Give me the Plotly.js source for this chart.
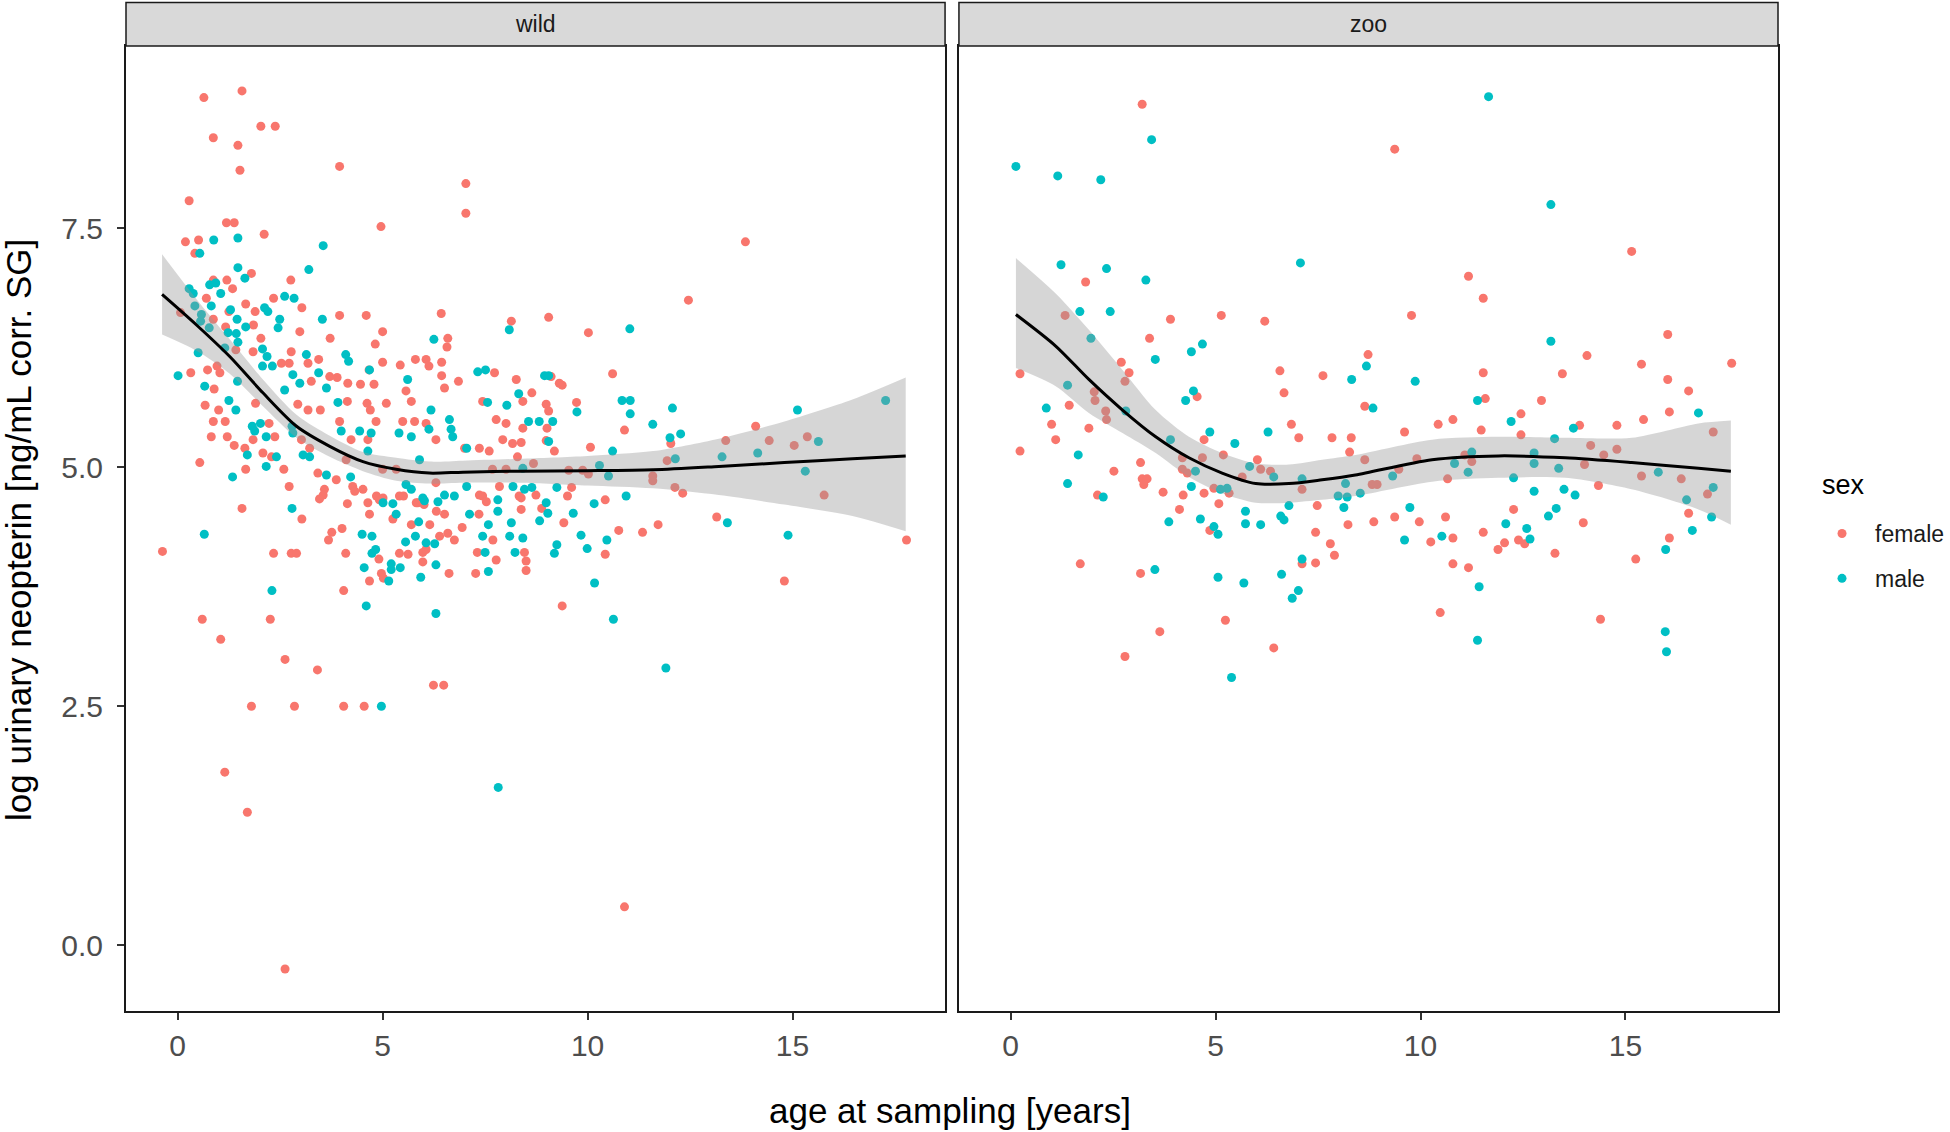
<!DOCTYPE html>
<html>
<head>
<meta charset="utf-8">
<script src="https://cdn.plot.ly/plotly-3.0.1.min.js"></script>
<style>
  html, body { margin: 0; padding: 0; background: #fff; }
  #chart { width: 1950px; height: 1132px; }
</style>
</head>
<body>
<div id="chart"></div>
<script>
// Points as [age at sampling, log urinary neopterin]
const wildFemale = [
  [0.64,8.87],[1.57,8.94],[2.03,8.57],[2.38,8.57],[0.87,8.45],[1.47,8.37],[1.52,8.11],[3.95,8.15],[7.03,7.97],[7.03,7.66],
  [0.28,7.79],[1.19,7.56],[1.38,7.56],[2.11,7.44],[4.96,7.52],[0.19,7.36],[0.51,7.38],[0.42,7.24],[1.80,7.03],[1.20,6.96],
  [1.34,6.87],[0.87,6.96],[2.76,6.96],[0.70,6.77],[2.34,6.77],[3.03,6.67],[1.66,6.71],[1.89,6.63],[1.25,6.63],[3.95,6.59],
  [4.60,6.59],[6.43,6.61],[8.14,6.53],[0.87,6.55],[1.17,6.47],[1.85,6.49],[2.98,6.42],[5.00,6.42],[3.72,6.35],[4.82,6.29],
  [2.03,6.35],[6.59,6.35],[6.57,6.26],[0.07,6.62],[0.32,5.99],[0.73,6.02],[0.96,6.06],[1.03,5.99],[1.42,6.23],[1.84,6.21],
  [2.77,6.21],[2.53,6.09],[2.72,6.09],[3.18,6.09],[3.44,6.13],[5.00,6.10],[5.43,6.07],[5.80,6.13],[6.06,6.13],[6.13,6.06],
  [6.44,6.10],[6.44,5.96],[6.85,5.90],[8.26,5.92],[7.73,5.99],[0.89,5.82],[0.67,5.65],[1.00,5.60],[0.87,5.48],[1.16,5.48],
  [0.82,5.32],[1.21,5.32],[1.38,5.23],[1.64,5.20],[1.66,4.98],[0.54,5.05],[1.90,5.67],[2.23,5.46],[2.37,5.32],[1.84,5.29],
  [2.08,5.15],[2.29,5.11],[2.59,4.98],[2.72,4.80],[3.02,5.29],[3.22,5.20],[2.93,5.66],[3.18,5.60],[3.48,5.60],[3.26,5.90],
  [3.71,5.95],[3.89,5.94],[4.15,5.88],[4.46,5.87],[4.79,5.87],[4.67,6.02],[4.14,5.69],[3.95,5.48],[4.62,5.67],[4.70,5.60],
  [4.84,5.48],[5.09,5.67],[5.57,5.80],[5.70,5.69],[5.49,5.48],[5.78,5.48],[6.06,5.46],[6.30,5.29],[6.51,5.83],[7.00,5.20],
  [7.36,5.20],[7.60,5.17],[7.77,5.50],[8.01,5.46],[7.93,5.29],[8.17,5.25],[7.44,5.69],[8.42,5.69],[8.29,5.11],[4.64,5.29],
  [4.23,5.29],[4.11,5.08],[3.42,4.94],[3.58,4.77],[3.87,4.87],[4.27,4.80],[4.52,4.77],[4.92,4.66],[5.41,4.70],[5.82,4.63],
  [6.30,4.84],[7.44,4.70],[7.85,4.80],[8.33,4.70],[5.00,4.98],[5.33,4.98],[7.68,4.98],[8.01,4.98],[1.57,4.57],
  [3.55,4.71],[3.46,4.67],[4.32,4.75],[4.85,4.70],[5.01,4.68],[5.51,4.70],[5.86,4.63],[6.01,4.61],[3.03,4.46],[4.14,4.62],
  [4.64,4.63],[4.68,4.51],[5.25,4.46],[5.70,4.40],[6.15,4.40],[6.31,4.54],[6.51,4.51],[7.36,4.71],[7.53,4.64],[7.35,4.51],
  [8.38,4.68],[8.38,4.56],[8.74,4.71],[8.88,4.57],[6.94,4.37],[3.76,4.32],[4.01,4.36],[3.68,4.24],[6.39,4.28],[6.59,4.31],
  [6.75,4.24],[7.69,4.24],[-0.37,4.12],[2.34,4.10],[2.77,4.10],[2.90,4.10],[4.10,4.10],[5.41,4.10],[5.62,4.09],[5.98,4.11],
  [6.06,4.14],[5.98,4.01],[4.91,4.04],[7.31,4.11],[7.77,4.03],[8.46,4.11],[8.50,4.02],[8.50,3.92],[6.62,3.89],[7.27,3.89],
  [4.97,3.89],[4.68,3.81],[5.02,3.84],[4.05,3.71],[0.60,3.41],[2.26,3.41],[1.05,3.20],[2.62,2.99],[3.41,2.88],[6.24,2.72],
  [6.49,2.72],[1.80,2.50],[2.85,2.50],[4.05,2.50],[4.55,2.50],[1.15,1.81],[1.70,1.39],[2.62,-0.25],
  [12.46,6.75],[9.05,6.57],[10.02,6.41],[10.61,5.98],[9.11,5.95],[9.31,5.88],[9.38,5.86],[8.64,5.78],[8.99,5.66],[9.05,5.59],
  [9.73,5.68],[14.10,5.43],[8.42,5.41],[9.01,5.41],[10.90,5.39],[8.38,5.26],[8.99,5.28],[9.19,5.17],[10.07,5.21],[12.03,5.25],
  [13.37,5.28],[14.43,5.28],[15.04,5.23],[15.36,5.32],[11.94,5.07],[8.68,5.04],[9.54,4.97],[9.88,4.97],[10.02,4.93],[11.59,4.91],
  [11.59,4.86],[12.13,4.79],[12.32,4.73],[15.77,4.71],[9.61,4.79],[9.51,4.70],[10.43,4.66],[9.42,4.42],[10.76,4.34],[11.34,4.32],
  [11.72,4.40],[13.15,4.48],[10.43,4.09],[17.78,4.24],[14.80,3.81],[9.38,3.55],[10.90,0.40],[13.85,7.36]
];

const wildMale = [
  [0.88,7.38],[1.47,7.40],[0.54,7.24],[3.55,7.32],[1.47,7.09],[1.64,6.98],[3.20,7.07],[0.28,6.87],[0.38,6.82],[0.78,6.91],
  [0.93,6.93],[1.05,6.82],[0.82,6.69],[0.42,6.69],[1.29,6.65],[2.12,6.67],[2.20,6.63],[2.61,6.79],[2.84,6.77],[0.58,6.60],
  [0.56,6.53],[0.77,6.46],[1.45,6.55],[1.66,6.47],[1.23,6.41],[1.43,6.40],[2.49,6.55],[2.45,6.46],[3.53,6.55],[1.47,6.31],
  [1.15,6.25],[2.07,6.24],[2.18,6.16],[0.50,6.20],[2.07,6.06],[2.31,6.06],[3.14,6.18],[4.10,6.18],[4.17,6.11],[0.01,5.96],
  [1.46,5.90],[2.81,5.97],[2.98,5.88],[3.44,5.99],[3.63,5.83],[4.68,6.02],[5.61,5.92],[6.25,6.34],[8.09,6.44],[7.32,6.00],
  [7.51,6.02],[8.32,5.77],[7.56,5.68],[8.03,5.65],[0.66,5.85],[1.25,5.70],[1.42,5.60],[1.82,5.43],[2.02,5.46],[1.88,5.38],
  [2.16,5.32],[2.79,5.43],[2.81,5.36],[2.61,5.81],[3.91,5.68],[3.99,5.38],[4.44,5.38],[4.72,5.36],[5.40,5.36],[5.70,5.32],
  [6.13,5.40],[6.18,5.60],[6.63,5.50],[6.67,5.40],[6.71,5.32],[7.05,5.20],[7.05,4.80],[1.70,5.13],[2.16,5.01],[2.41,5.11],
  [3.06,5.13],[3.22,5.11],[1.34,4.90],[3.63,4.92],[4.22,4.90],[4.64,5.17],[5.57,4.82],[5.90,5.08],[5.70,4.77],[5.98,4.68],
  [6.35,4.64],[6.75,4.70],[7.81,4.66],[8.18,4.80],[8.46,4.77],[2.79,4.57],
  [0.65,4.30],[2.30,3.71],[4.60,3.55],[6.30,3.47],[4.97,2.50],[7.82,1.65],[4.50,4.30],[4.74,4.28],[4.83,4.14],[4.74,4.10],
  [4.55,3.95],[5.21,3.99],[5.21,3.93],[5.43,3.95],[5.15,3.81],[5.93,3.85],[6.30,3.98],[5.01,4.63],[5.25,4.62],[5.33,4.51],
  [6.02,4.65],[6.51,4.71],[5.88,4.43],[5.80,4.28],[5.56,4.22],[6.06,4.21],[6.27,4.20],[7.12,4.51],[7.58,4.40],[7.81,4.54],
  [8.14,4.42],[7.44,4.28],[8.10,4.28],[8.42,4.26],[8.23,4.11],[7.50,4.11],[7.58,3.91],[8.83,4.44],[8.99,4.63],[9.03,4.52],
  [11.03,6.45],[8.95,5.96],[9.05,5.96],[9.74,5.58],[10.84,5.70],[11.04,5.70],[11.04,5.56],[12.07,5.62],[17.27,5.70],[15.12,5.60],
  [8.56,5.48],[8.82,5.48],[9.15,5.48],[9.05,5.27],[11.59,5.45],[12.27,5.35],[12.01,5.31],[10.61,5.17],[15.63,5.27],[14.15,5.15],
  [13.28,5.11],[12.14,5.09],[8.42,4.99],[10.29,5.02],[10.51,4.91],[15.31,4.96],[8.64,4.79],[9.25,4.79],[10.94,4.70],[10.16,4.62],
  [9.65,4.52],[13.41,4.42],[9.84,4.29],[10.47,4.24],[9.25,4.19],[9.19,4.10],[9.99,4.15],[14.89,4.29],[10.17,3.79],[10.63,3.41],
  [11.91,2.90]
];

const zooFemale = [
  [3.21,8.80],[1.83,6.94],[1.33,6.59],[3.90,6.55],[5.14,6.59],[6.20,6.53],[3.39,6.35],[2.70,6.10],[2.89,5.99],[2.79,5.90],
  [0.23,5.98],[6.57,6.01],[7.62,5.96],[6.67,5.78],[8.72,6.18],[8.64,5.64],[4.55,5.74],[2.04,5.79],[2.06,5.70],[1.43,5.65],
  [1.00,5.45],[1.10,5.29],[1.91,5.41],[2.32,5.59],[2.34,5.50],[0.23,5.17],[6.85,5.45],[7.03,5.31],[7.84,5.31],[8.31,5.31],
  [8.27,5.16],[4.72,5.29],[3.17,5.05],[2.52,4.96],[3.21,4.88],[3.33,4.88],[3.25,4.82],[4.19,5.10],[4.68,5.10],[5.19,5.13],
  [6.02,5.08],[6.10,4.98],[6.34,4.96],[8.64,5.08],[8.82,4.82],[7.11,4.77],[5.65,4.90],[4.19,4.98],[4.31,4.94],[3.72,4.74],
  [4.21,4.71],[4.72,4.73],[4.96,4.78],[5.33,4.73],[2.12,4.71],[4.12,4.56],[5.08,4.62],[4.86,4.34],[7.48,4.60],[8.23,4.40],
  [8.86,4.43],[7.44,4.32],[7.80,4.20],[7.90,4.08],[7.11,3.99],[7.44,4.00],[1.70,3.99],[3.17,3.89],[2.79,3.02],[5.24,3.40],
  [6.42,3.11],[3.64,3.28],
  [9.37,8.33],[11.17,7.00],[11.53,6.77],[9.78,6.59],[15.15,7.26],[16.03,6.39],[14.06,6.17],[15.39,6.08],[17.59,6.09],[16.03,5.92],
  [16.54,5.80],[13.46,5.98],[11.53,5.99],[11.58,5.72],[12.95,5.70],[12.45,5.56],[16.07,5.58],[15.44,5.50],[14.79,5.44],[13.88,5.44],
  [10.79,5.50],[10.43,5.45],[9.61,5.37],[11.48,5.39],[12.45,5.34],[17.14,5.37],[14.15,5.23],[14.79,5.19],[14.47,5.13],[11.08,5.13],
  [11.25,5.06],[9.91,5.09],[14.00,5.03],[10.66,4.88],[9.47,4.98],[15.39,4.91],[16.36,4.88],[8.94,4.82],[14.34,4.81],[17.00,4.72],
  [16.54,4.52],[12.27,4.56],[9.37,4.48],[9.97,4.43],[10.61,4.48],[13.97,4.42],[11.53,4.32],[10.79,4.26],[10.25,4.22],[16.07,4.26],
  [11.89,4.14],[12.05,4.21],[12.39,4.24],[12.54,4.20],[13.28,4.10],[10.79,3.99],[11.17,3.95],[15.25,4.04],[10.48,3.48],[14.39,3.41]
];

const zooMale = [
  [0.13,8.15],[1.15,8.05],[2.20,8.01],[3.44,8.43],[1.23,7.12],[2.34,7.08],[3.30,6.96],[7.07,7.14],[1.69,6.63],[2.43,6.63],
  [1.96,6.35],[3.53,6.13],[4.41,6.21],[4.68,6.29],[8.68,6.06],[8.32,5.92],[1.39,5.86],[4.46,5.80],[4.27,5.70],[0.87,5.62],
  [2.81,5.59],[8.84,5.62],[6.28,5.37],[4.86,5.37],[3.90,5.29],[5.47,5.25],[1.65,5.13],[5.83,5.01],[6.42,4.90],[4.51,4.96],
  [1.39,4.83],[4.41,4.80],[5.12,4.77],[5.28,4.78],[7.11,4.88],[8.17,4.83],[7.99,4.70],[8.21,4.69],[8.53,4.73],[8.13,4.58],
  [2.26,4.69],[6.79,4.60],[6.59,4.49],[6.67,4.45],[5.73,4.54],[5.73,4.41],[6.10,4.40],[3.86,4.43],[4.63,4.46],[4.96,4.38],
  [5.06,4.30],[7.11,4.04],[3.52,3.93],[5.06,3.85],[5.69,3.79],[6.61,3.88],[7.02,3.71],[6.87,3.63],[5.39,2.80],
  [11.66,8.88],[13.18,7.75],[13.18,6.32],[9.87,5.90],[11.39,5.70],[12.21,5.48],[13.73,5.41],[13.27,5.30],[16.78,5.57],[11.25,5.16],
  [10.83,5.04],[12.77,5.15],[12.77,5.04],[13.37,4.99],[9.32,4.91],[11.16,4.95],[12.27,4.89],[15.80,4.95],[12.77,4.75],[13.50,4.77],
  [13.77,4.71],[17.14,4.79],[16.49,4.66],[9.74,4.58],[13.31,4.57],[13.12,4.49],[12.08,4.41],[12.59,4.36],[12.67,4.25],[10.52,4.28],
  [9.61,4.24],[17.10,4.48],[16.63,4.34],[15.98,4.14],[11.43,3.75],[11.39,3.19],[15.97,3.28],[16.00,3.07]
];

// Loess fit and 95% band
const wildFitAge  = [-0.38, 0.46, 1.27, 2.08, 2.90, 3.71, 4.52, 5.33, 6.14, 6.96, 8.34, 10.0, 11.6, 13.2, 14.8, 16.46, 17.76];
const wildFitMid  = [6.81, 6.49, 6.16, 5.78, 5.43, 5.22, 5.06, 4.98, 4.94, 4.95, 4.96, 4.965, 4.975, 5.01, 5.05, 5.09, 5.12];
const wildFitLow  = [6.39, 6.22, 5.98, 5.64, 5.31, 5.11, 4.96, 4.86, 4.83, 4.84, 4.84, 4.81, 4.78, 4.71, 4.61, 4.49, 4.33];
const wildFitHigh = [7.23, 6.76, 6.34, 5.92, 5.55, 5.33, 5.16, 5.10, 5.06, 5.07, 5.09, 5.12, 5.17, 5.30, 5.48, 5.71, 5.94];

const zooFitAge  = [0.13, 1.10, 1.91, 2.73, 3.54, 4.35, 5.16, 5.98, 6.79, 7.6, 8.41, 10.28, 11.9, 13.53, 15.15, 16.78, 17.57];
const zooFitMid  = [6.60, 6.27, 5.92, 5.60, 5.32, 5.10, 4.94, 4.83, 4.83, 4.87, 4.92, 5.08, 5.12, 5.10, 5.05, 4.99, 4.96];
const zooFitLow  = [6.04, 5.85, 5.57, 5.36, 5.15, 4.90, 4.73, 4.63, 4.63, 4.66, 4.70, 4.85, 4.89, 4.89, 4.77, 4.56, 4.40];
const zooFitHigh = [7.19, 6.82, 6.44, 6.02, 5.60, 5.32, 5.15, 5.04, 5.03, 5.08, 5.13, 5.29, 5.32, 5.31, 5.31, 5.46, 5.49];

const xTicks = [0, 5, 10, 15];
const yTicks = [0, 2.5, 5, 7.5];
const yTickText = ['0.0', '2.5', '5.0', '7.5'];
const facetNames = ['wild', 'zoo'];

const FEMALE = '#F8766D';
const MALE = '#00BFC4';
const FONT = 'Liberation Sans, Arial, sans-serif';

function pointTrace(pts, name, color, xa, ya, showlegend) {
  return {
    type: 'scatter',
    mode: 'markers',
    name,
    legendgroup: name,
    showlegend,
    x: pts.map(p => p[0]),
    y: pts.map(p => p[1]),
    xaxis: xa,
    yaxis: ya,
    marker: { color, size: 9, line: { width: 0 } },
    hoverinfo: 'x+y',
  };
}

function fitTraces(age, low, high, mid, xa, ya) {
  const common = { type: 'scatter', mode: 'lines', x: age, xaxis: xa, yaxis: ya, showlegend: false, hoverinfo: 'skip' };
  return [
    { ...common, y: low, line: { width: 0, shape: 'spline', smoothing: 0.8 } },
    { ...common, y: high, line: { width: 0, shape: 'spline', smoothing: 0.8 },
      fill: 'tonexty', fillcolor: 'rgba(153,153,153,0.4)' },
    { ...common, y: mid, line: { color: '#000000', width: 3, shape: 'spline', smoothing: 0.8 } },
  ];
}

const traces = [
  pointTrace(wildFemale, 'female', FEMALE, 'x', 'y', true),
  pointTrace(wildMale, 'male', MALE, 'x', 'y', true),
  ...fitTraces(wildFitAge, wildFitLow, wildFitHigh, wildFitMid, 'x', 'y'),
  pointTrace(zooFemale, 'female', FEMALE, 'x2', 'y2', false),
  pointTrace(zooMale, 'male', MALE, 'x2', 'y2', false),
  ...fitTraces(zooFitAge, zooFitLow, zooFitHigh, zooFitMid, 'x2', 'y2'),
];

const X_AXIS = {
  range: [-1.26, 18.72],
  tickvals: xTicks,
  ticks: 'outside', ticklen: 7, tickwidth: 2, tickcolor: '#333333',
  tickfont: { family: FONT, size: 30, color: '#4D4D4D' },
  ticklabelstandoff: 0,
  showgrid: false, zeroline: false,
  showline: true, mirror: true, linecolor: '#1A1A1A', linewidth: 2,
};

const Y_AXIS = {
  range: [-0.69, 9.41],
  tickvals: yTicks, ticktext: yTickText,
  ticks: 'outside', ticklen: 7, tickwidth: 2, tickcolor: '#333333',
  tickfont: { family: FONT, size: 30, color: '#4D4D4D' },
  ticklabelstandoff: 8,
  showgrid: false, zeroline: false,
  showline: true, mirror: true, linecolor: '#1A1A1A', linewidth: 2,
};

// facet strips on top of each panel
const STRIP_TOP = 1.045;
const shapes = ['x', 'x2'].map(xa => ({
  type: 'rect', xref: xa + ' domain', yref: 'paper',
  x0: 0, x1: 1, y0: 1, y1: STRIP_TOP,
  fillcolor: '#D9D9D9', line: { color: '#1A1A1A', width: 1.5 },
}));

const annotations = [
  ...facetNames.map((name, i) => ({
    text: name, xref: (i === 0 ? 'x' : 'x2') + ' domain', yref: 'paper',
    x: 0.5, y: (1 + STRIP_TOP) / 2, xanchor: 'center', yanchor: 'middle', showarrow: false,
    font: { family: FONT, size: 23, color: '#1A1A1A' },
  })),
  {
    text: 'age at sampling [years]', xref: 'paper', yref: 'paper',
    x: 0.4988, y: -0.1026, xanchor: 'center', yanchor: 'middle', showarrow: false,
    font: { family: FONT, size: 35, color: '#000000' },
  },
  {
    text: 'log urinary neopterin [ng/mL corr. SG]', xref: 'paper', yref: 'paper',
    x: -0.0654, y: 0.4984, xanchor: 'center', yanchor: 'middle', showarrow: false, textangle: -90,
    font: { family: FONT, size: 35, color: '#000000' },
  },
  // legend title
  {
    text: 'sex', xref: 'paper', yref: 'paper',
    x: 1.0254, y: 0.545, xanchor: 'left', yanchor: 'middle', showarrow: false,
    font: { family: FONT, size: 27, color: '#000000' },
  },
];

const layout = {
  width: 1950,
  height: 1132,
  margin: { l: 126, r: 172, t: 46, b: 121, autoexpand: false },
  paper_bgcolor: '#FFFFFF',
  plot_bgcolor: '#FFFFFF',
  font: { family: FONT, color: '#000000' },
  xaxis: { ...X_AXIS, domain: [0, 0.4958], anchor: 'y' },
  xaxis2: { ...X_AXIS, domain: [0.5042, 1], anchor: 'y2' },
  yaxis: { ...Y_AXIS, anchor: 'x' },
  yaxis2: { ...Y_AXIS, anchor: 'x2', matches: 'y', showticklabels: false, ticks: '' },
  showlegend: true,
  legend: {
    xref: 'container', yref: 'container',
    x: 0.9277, y: 0.5477, xanchor: 'left', yanchor: 'top',
    font: { family: FONT, size: 23, color: '#1A1A1A' },
    itemwidth: 56,
    tracegroupgap: 12,
    bgcolor: 'rgba(0,0,0,0)',
  },
  shapes,
  annotations,
};

Plotly.newPlot('chart', traces, layout, { displayModeBar: false, responsive: false });
</script>
</body>
</html>
